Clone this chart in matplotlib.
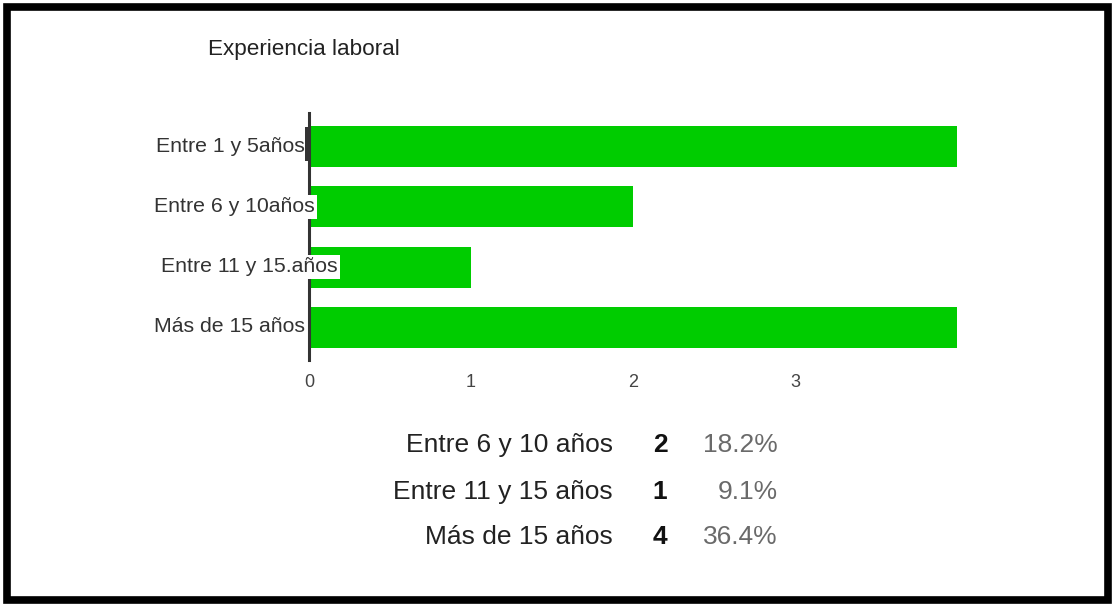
import matplotlib
matplotlib.use("Agg")
import matplotlib.pyplot as plt
from matplotlib.patches import Rectangle

plt.rcParams['font.family'] = ['Liberation Sans', 'DejaVu Sans']

# data
categories = ["Entre 1 y 5años", "Entre 6 y 10años", "Entre 11 y 15.años", "Más de 15 años"]
counts = [4, 2, 1, 4]
table_labels = ["Entre 6 y 10 años", "Entre 11 y 15 años", "Más de 15 años"]
table_counts = [2, 1, 4]
table_pcts = ["18.2%", "9.1%", "36.4%"]
xticks = [0, 1, 2, 3]

W, H = 1115, 607
fig = plt.figure(figsize=(W / 100, H / 100), dpi=100)

# axes placed in pixel terms
x0, x4 = 309, 957
top, bottom = 113, 360
ax = fig.add_axes([x0 / W, 1 - bottom / H, (x4 - x0) / W, (bottom - top) / H])

ypos = list(range(len(categories)))
ax.barh(ypos, counts, height=0.68, color="#00cc00", zorder=2)
ax.set_xlim(0, 4)
ax.set_ylim(3.54, -0.56)

for s in ["top", "right", "bottom"]:
    ax.spines[s].set_visible(False)
ax.spines["left"].set_color("#333333")
ax.spines["left"].set_linewidth(2.2)
ax.spines["left"].set_zorder(3)

ax.set_xticks(xticks)
ax.set_xticklabels([str(t) for t in xticks])
ax.tick_params(axis="x", length=0, pad=10, labelsize=13, labelcolor="#444444")
ax.set_yticks([])

# category labels, some of them sitting on white boxes over the bars
label_right = [305, 315, 338, 305]
for y, lab, xr in zip(ypos, categories, label_right):
    ax.text(xr / W, 1 - (147 + 60 * y) / H, lab, transform=fig.transFigure,
            ha="right", va="center", fontsize=15.3, color="#333333", zorder=4,
            bbox=dict(facecolor="white", edgecolor="none", pad=1.5))
# dark tab next to the first label
fig.patches.append(Rectangle((305 / W, 1 - 161 / H), 4 / W, 34 / H,
                             transform=fig.transFigure, facecolor="#333333",
                             edgecolor="none", zorder=5))

fig.text(208 / W, 1 - 49 / H, "Experiencia laboral", ha="left", va="center",
         fontsize=16.2, color="#222222")

# summary table below
row_y = [445, 492, 537]
for yy, lab, c, p in zip(row_y, table_labels, table_counts, table_pcts):
    fig.text(613 / W, 1 - yy / H, lab, ha="right", va="center", fontsize=19, color="#222222")
    fig.text(660 / W, 1 - yy / H, str(c), ha="center", va="center", fontsize=19,
             fontweight="bold", color="#111111")
    fig.text(778 / W, 1 - yy / H, p, ha="right", va="center", fontsize=19, color="#6a6a6a")

# outer black frame
fig.patches.append(Rectangle((7 / W, 7 / H), (W - 14) / W, (H - 14) / H,
                             transform=fig.transFigure, fill=False,
                             edgecolor="black", linewidth=5.5, zorder=10))

fig.savefig("out.png", dpi=100)
